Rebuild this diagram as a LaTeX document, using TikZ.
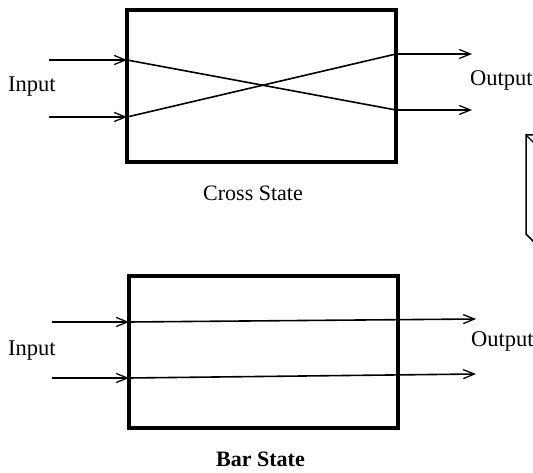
\documentclass[tikz,border=0pt]{standalone}
\usepackage{fontspec}
\setmainfont{Liberation Serif}
\usetikzlibrary{arrows.meta}
\begin{document}
\begin{tikzpicture}[x=1pt,y=-1pt,
  switchbox/.style={draw,line width=3.2pt,minimum width=269pt,minimum height=152pt,inner sep=0pt},
  path/.style={line width=1.6pt},
  signal/.style={line width=1.6pt,-{Straight Barb[length=11pt,width=9pt,line width=1.3pt]}},
  lbl/.style={font=\fontsize{22.5}{26}\selectfont,inner sep=0pt},
  caption/.style={font=\fontsize{22}{26}\selectfont,inner sep=0pt}]
\useasboundingbox (0,0) rectangle (533,473);
\clip (0,0) rectangle (533,473);

% cross state
\node[switchbox] (cross) at (261.5,86) {};
\coordinate (ca1) at (49,60);   \coordinate (ca2) at (49,117);
\coordinate (cl1) at (127,60);  \coordinate (cl2) at (127,117);
\coordinate (cr1) at (396,54);  \coordinate (cr2) at (396,110);
\coordinate (co1) at (472,54);  \coordinate (co2) at (472,110);
\draw[signal] (ca1) -- (cl1);
\draw[signal] (ca2) -- (cl2);
\draw[path] (cl1) -- (cr2);
\draw[path] (cl2) -- (cr1);
\draw[signal] (cr1) -- (co1);
\draw[signal] (cr2) -- (co2);
\node[lbl,anchor=west] (cin) at (8,87) {Input};
\node[lbl,anchor=west] (cout) at (470,80) {Output};
\node[caption] (ccap) at (253,193) {Cross State};

% bar state
\node[switchbox] (bar) at (263.5,352) {};
\coordinate (ba1) at (52,322);  \coordinate (ba2) at (52,378);
\coordinate (bl1) at (129,322); \coordinate (bl2) at (129,378);
\coordinate (bo1) at (476,319); \coordinate (bo2) at (476,374);
\draw[signal] (ba1) -- (bl1);
\draw[signal] (ba2) -- (bl2);
\draw[signal] (bl1) -- (bo1);
\draw[signal] (bl2) -- (bo2);
\node[lbl,anchor=west] (bin) at (8,351) {Input};
\node[lbl,anchor=west] (bout) at (471,341) {Output};
\node[caption,font=\bfseries\fontsize{22}{26}\selectfont] (bcap) at (260.5,459) {Bar State};

% partly visible frame at the right edge
\draw[line width=1.5pt] (536,135) -- (526,135) -- (526,234) -- (534,242);
\draw[line width=1.2pt] (526,135) -- (534,143);
\end{tikzpicture}
\end{document}
